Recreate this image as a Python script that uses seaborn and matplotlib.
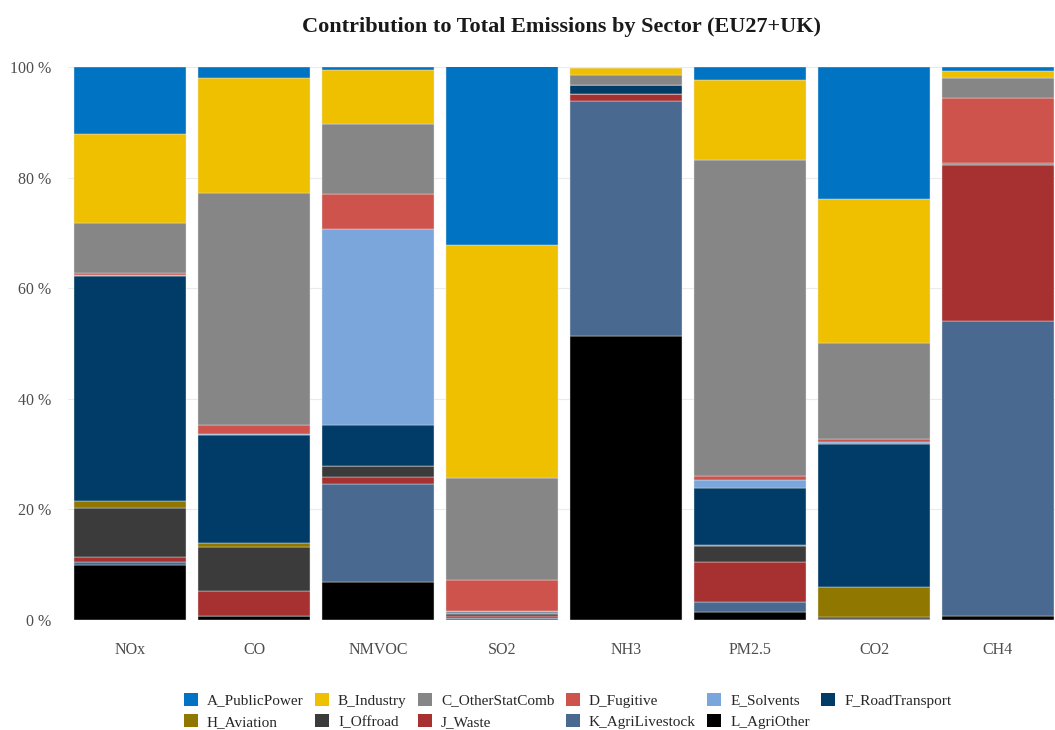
import numpy as np
import pandas as pd
import matplotlib.pyplot as plt
import seaborn as sns
from matplotlib.patches import Patch

pollutants = ["NOx", "CO", "NMVOC", "SO2", "NH3", "PM2.5", "CO2", "CH4"]

# share of total emissions (%) per sector
A_PublicPower =   [12.1,  1.9,  0.6, 32.4,  0.1,  2.4, 23.8,  0.8]
B_Industry =      [16.1, 20.8,  9.7, 42.1,  1.2, 14.4, 26.2,  1.1]
C_OtherStatComb = [ 9.1, 42.1, 12.6, 18.4,  1.8, 57.2, 17.2,  3.7]
D_Fugitive =      [ 0.4,  1.5,  6.4,  5.7,  0.1,  0.7,  0.6, 11.8]
E_Solvents =      [ 0.1,  0.2, 35.5,  0.1,  0.0,  1.5,  0.3,  0.0]
F_RoadTransport = [40.7, 19.5,  7.3,  0.2,  1.5, 10.2, 26.0,  0.2]
H_Aviation =      [ 1.3,  0.8,  0.1,  0.3,  0.0,  0.2,  5.4,  0.0]
I_Offroad =       [ 8.8,  7.9,  2.0,  0.3,  0.1,  3.0,  0.4,  0.1]
J_Waste =         [ 0.9,  4.6,  1.2,  0.4,  1.2,  7.1,  0.1, 28.2]
K_AgriLivestock = [ 0.6,  0.0, 17.7,  0.1, 42.5,  1.8,  0.0, 53.4]
L_AgriOther =     [ 9.9,  0.7,  6.9,  0.2, 51.4,  1.5,  0.0,  0.7]

sectors = {
    "A_PublicPower": A_PublicPower,
    "B_Industry": B_Industry,
    "C_OtherStatComb": C_OtherStatComb,
    "D_Fugitive": D_Fugitive,
    "E_Solvents": E_Solvents,
    "F_RoadTransport": F_RoadTransport,
    "H_Aviation": H_Aviation,
    "I_Offroad": I_Offroad,
    "J_Waste": J_Waste,
    "K_AgriLivestock": K_AgriLivestock,
    "L_AgriOther": L_AgriOther,
}

colors = {
    "A_PublicPower": "#0073C2",
    "B_Industry": "#EFC000",
    "C_OtherStatComb": "#868686",
    "D_Fugitive": "#CD534C",
    "E_Solvents": "#7AA6DC",
    "F_RoadTransport": "#003C67",
    "H_Aviation": "#8F7700",
    "I_Offroad": "#3B3B3B",
    "J_Waste": "#A73030",
    "K_AgriLivestock": "#4A6990",
    "L_AgriOther": "#000000",
}

sns.set_theme(style="white")
plt.rcParams['font.family'] = ['Liberation Serif', 'DejaVu Serif']

fig = plt.figure(figsize=(10.55, 7.3), dpi=100)
ax = fig.add_axes([68 / 1055, 1 - 620 / 730, (1055 - 68) / 1055, (620 - 67) / 730])

# stack from the bottom: L first, A on top
bottom = np.zeros(len(pollutants))
for name in reversed(list(sectors.keys())):
    vals = np.array(sectors[name], dtype=float)
    df = pd.DataFrame({"pollutant": pollutants, "share": vals})
    sns.barplot(data=df, x="pollutant", y="share", order=pollutants,
                color=colors[name], saturation=1, bottom=bottom, width=0.9,
                edgecolor="#e6e6e6", linewidth=0.3, ax=ax, zorder=3)
    bottom += vals

ax.set_xlim(-0.5, 7.46)
ax.set_ylim(0, 100)
ax.set_yticks([0, 20, 40, 60, 80, 100])
ax.set_yticklabels([f"{v} %" for v in [0, 20, 40, 60, 80, 100]])
ax.yaxis.grid(True, color="#ebebeb", linewidth=0.8, zorder=0)
ax.xaxis.grid(False)
for s in ax.spines.values():
    s.set_visible(False)
ax.set_xlabel("")
ax.set_ylabel("")
ax.tick_params(axis="both", length=0, labelsize=11.5, colors="#4d4d4d")
ax.tick_params(axis="x", pad=16)
ax.tick_params(axis="y", pad=12)

ax.set_title("Contribution to Total Emissions by Sector (EU27+UK)",
             fontsize=16, fontweight="bold", pad=25, color="#1a1a1a")

# legend row-wise order for 6 columns
names = list(sectors.keys())
row1, row2 = names[:6], names[6:]
order = []
for i in range(6):
    order.append(row1[i])
    if i < len(row2):
        order.append(row2[i])
handles = [Patch(facecolor=colors[n], edgecolor="none") for n in order]
fig.legend(handles, order, loc="center", bbox_to_anchor=(0.538, 1 - 711 / 730),
           ncol=6, frameon=False, fontsize=11, handlelength=0.9, handleheight=0.9,
           handletextpad=0.6, columnspacing=0.75, labelspacing=0.45)

plt.savefig("out.png", dpi=100)
